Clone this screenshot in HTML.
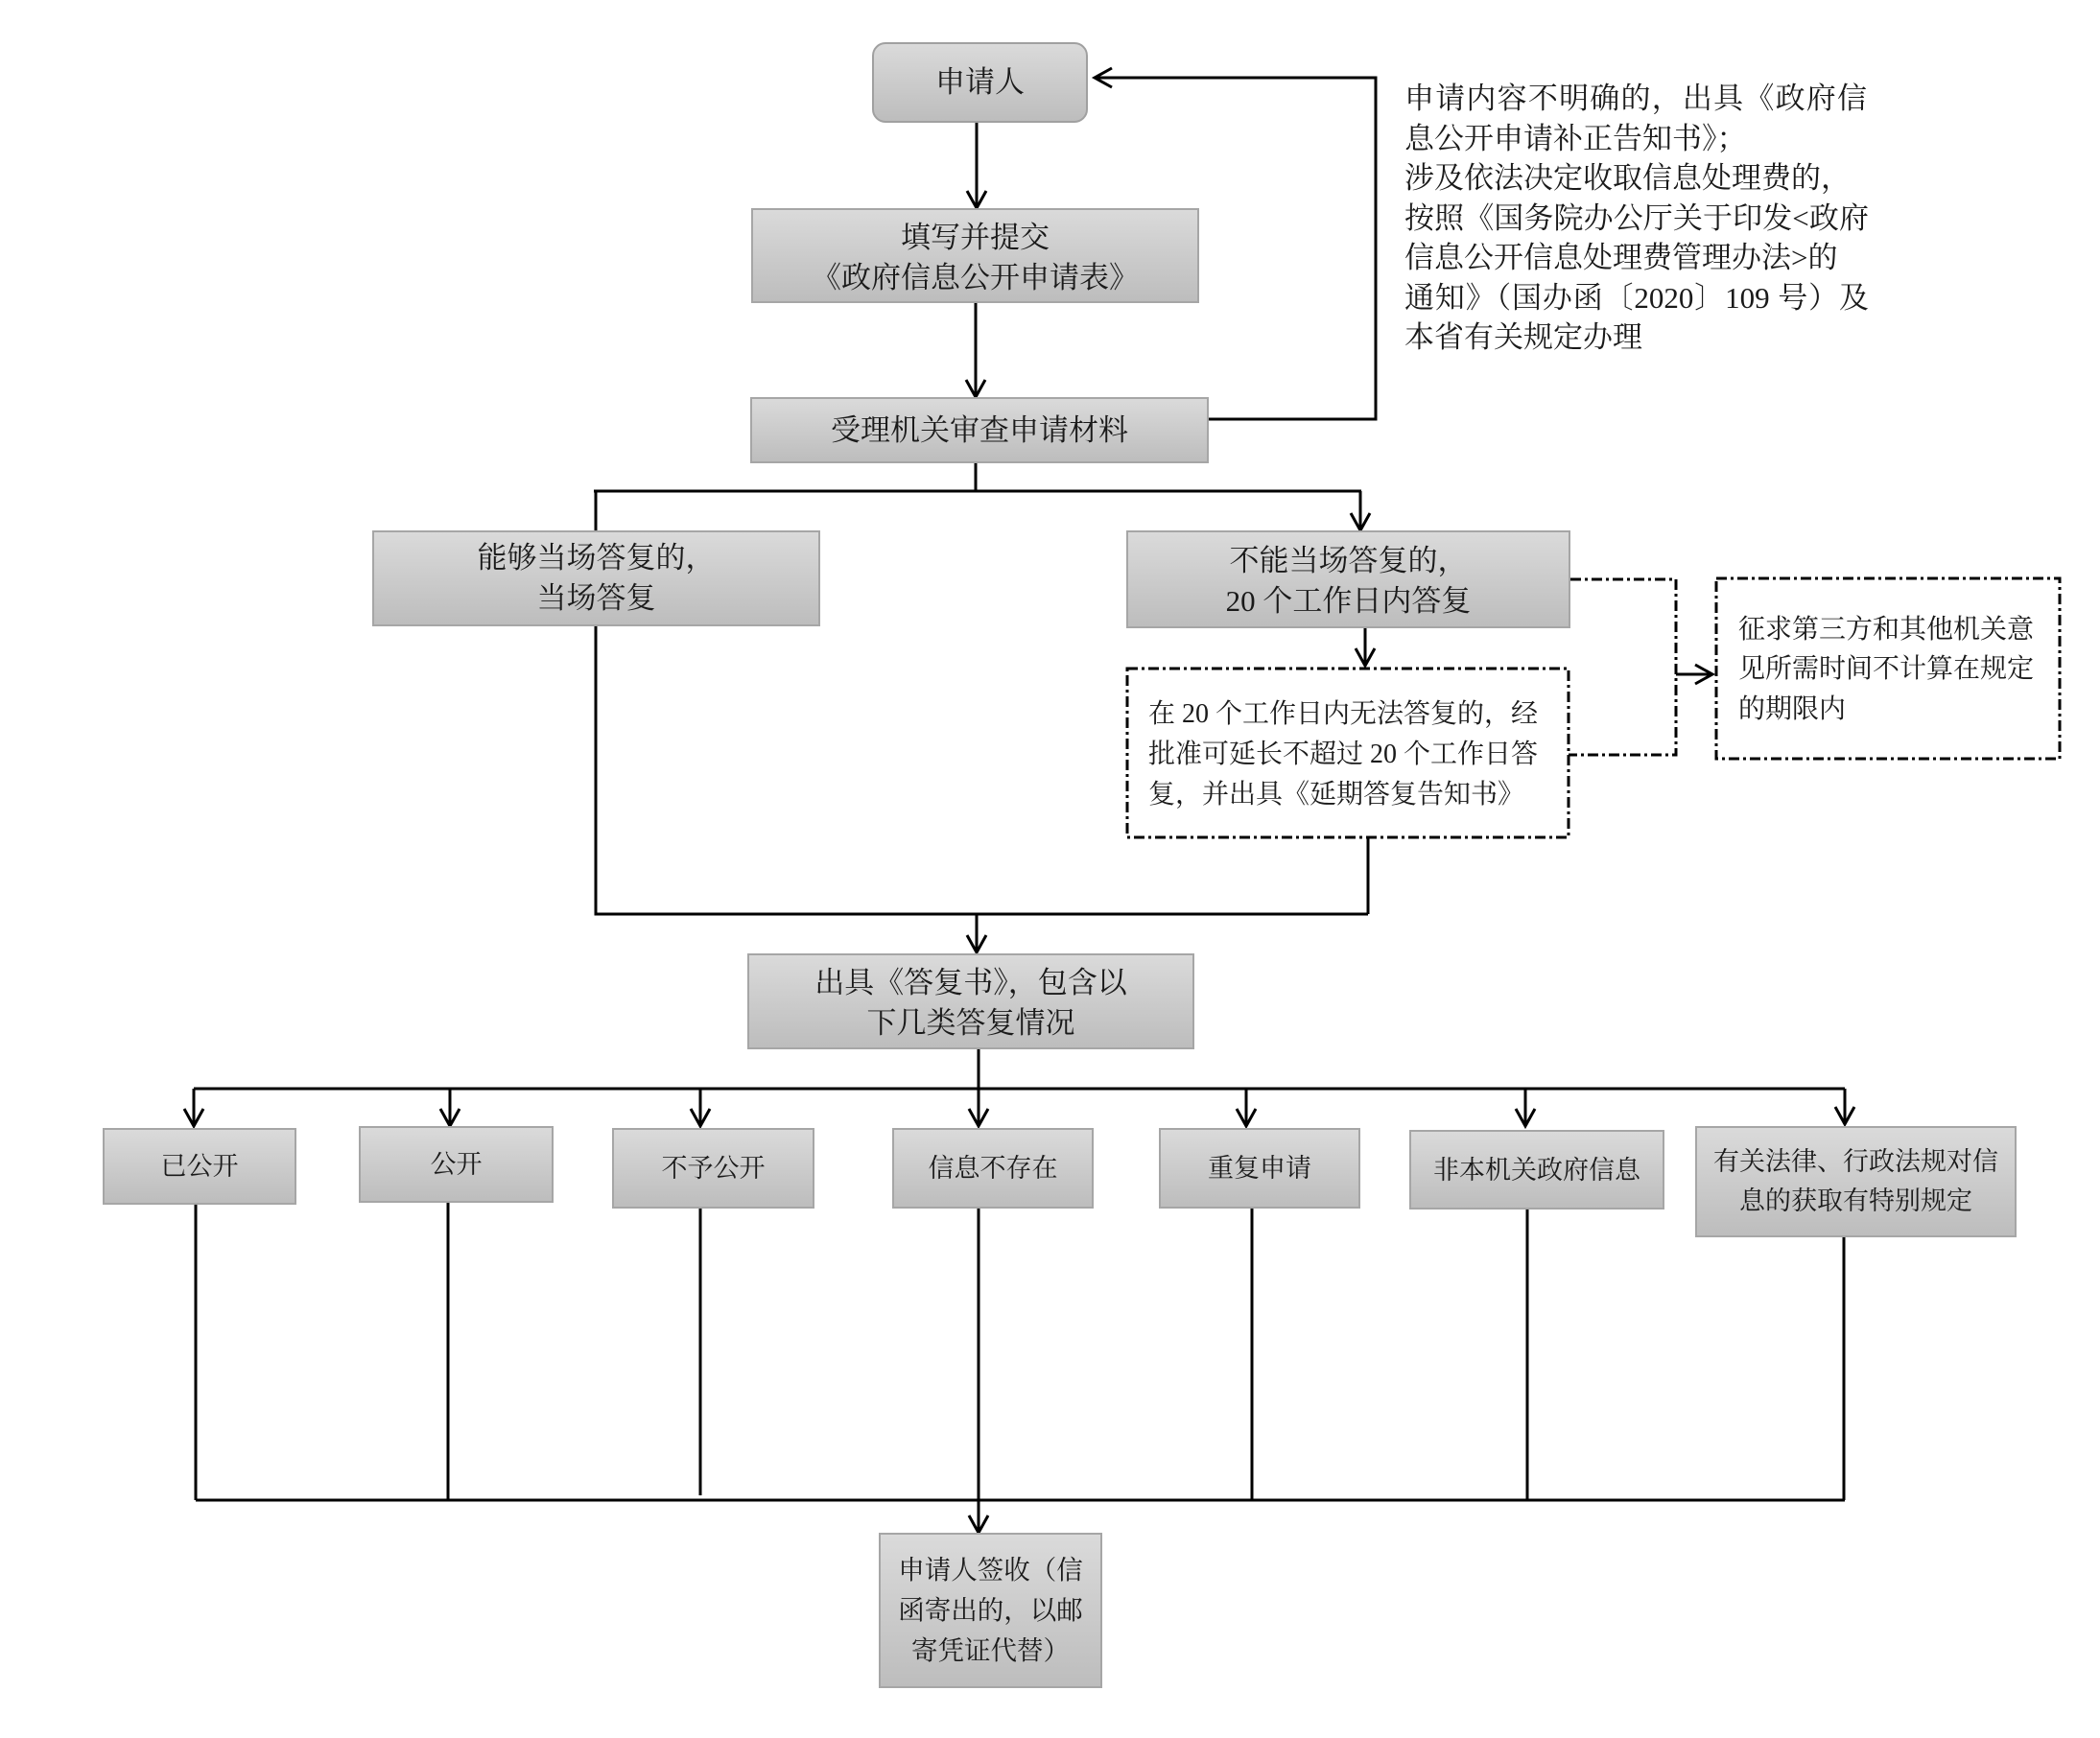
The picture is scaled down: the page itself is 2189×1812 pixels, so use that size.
<!DOCTYPE html>
<html><head><meta charset="utf-8">
<style>
html,body{margin:0;padding:0;background:#fff;}
body{width:2189px;height:1812px;position:relative;overflow:hidden;font-family:"Liberation Serif","Noto Serif CJK SC",serif;color:#1a1a1a;}
.b{position:absolute;box-sizing:border-box;border:2px solid #a6a6a6;background:linear-gradient(#dadada,#bdbdbd);display:flex;flex-direction:column;justify-content:center;align-items:center;text-align:center;font-size:31px;line-height:42px;white-space:nowrap;}
.s{font-size:27px;}
.t{position:absolute;white-space:nowrap;font-size:31px;line-height:41.5px;}
.d{position:absolute;white-space:nowrap;font-size:28px;line-height:42px;}
svg{position:absolute;left:0;top:0;}
</style></head><body>
<svg width="2189" height="1812" viewBox="0 0 2189 1812">
<g fill="none" stroke="#000" stroke-width="3">
<path d="M1018 128V215"/>
<path d="M1017 316V412"/>
<path d="M1260 437H1434V81H1143"/>
<path d="M1017 483V512"/>
<path d="M619 512H1419"/>
<path d="M621 512V553"/>
<path d="M1418 512V551"/>
<path d="M1423 655V693"/>
<path d="M1747 703H1783"/>
<path d="M621 653V953H1426"/>
<path d="M1426 873V953"/>
<path d="M1018 953V991"/>
<path d="M1020 1094V1135"/>
<path d="M202 1135H1923"/>
<path d="M202 1135V1172M469 1135V1172M730 1135V1172M1020 1135V1172M1299 1135V1172M1590 1135V1172M1923 1135V1170"/>
<path d="M204 1256V1564M467 1254V1564M730 1260V1559M1020 1260V1564M1305 1260V1564M1592 1261V1564M1922 1290V1564"/>
<path d="M204 1564H1923"/>
<path d="M1020 1564V1596"/>
</g>
<g fill="none" stroke="#000" stroke-width="3" stroke-linejoin="miter">
<polyline points="1008,199 1018,217 1028,199"/>
<polyline points="1007,396 1017,414 1027,396"/>
<polyline points="1159,71 1141,81 1159,91"/>
<polyline points="1408,535 1418,553 1428,535"/>
<polyline points="1413,676 1423,694 1433,676"/>
<polyline points="1767,693 1785,703 1767,713"/>
<polyline points="1008,975 1018,993 1028,975"/>
<polyline points="192,1156 202,1174 212,1156"/>
<polyline points="459,1156 469,1174 479,1156"/>
<polyline points="720,1156 730,1174 740,1156"/>
<polyline points="1010,1156 1020,1174 1030,1156"/>
<polyline points="1289,1156 1299,1174 1309,1156"/>
<polyline points="1580,1156 1590,1174 1600,1156"/>
<polyline points="1913,1154 1923,1172 1933,1154"/>
<polyline points="1010,1580 1020,1598 1030,1580"/>
</g>
<g fill="none" stroke="#000" stroke-width="3" stroke-dasharray="11 4 3 4">
<path d="M1637 604H1747V787H1635"/>
<rect x="1175" y="697" width="460" height="176"/>
<rect x="1789" y="603" width="358" height="188"/>
</g>
</svg>

<div class="b" style="left:909px;top:44px;width:225px;height:84px;border-radius:14px;border-color:#a0a0a0;">申请人</div>
<div class="b" style="left:783px;top:217px;width:467px;height:99px;padding-top:4px;"><div>填写并提交</div><div>《政府信息公开申请表》</div></div>
<div class="b" style="left:782px;top:414px;width:478px;height:69px;">受理机关审查申请材料</div>
<div class="b" style="left:388px;top:553px;width:467px;height:100px;"><div>能够当场答复的，</div><div>当场答复</div></div>
<div class="b" style="left:1174px;top:553px;width:463px;height:102px;padding-top:4px;"><div>不能当场答复的，</div><div>20 个工作日内答复</div></div>
<div class="b" style="left:779px;top:994px;width:466px;height:100px;padding-top:4px;"><div>出具《答复书》，包含以</div><div>下几类答复情况</div></div>

<div class="b s" style="left:107px;top:1176px;width:202px;height:80px;">已公开</div>
<div class="b s" style="left:374px;top:1174px;width:203px;height:80px;">公开</div>
<div class="b s" style="left:638px;top:1176px;width:211px;height:84px;">不予公开</div>
<div class="b s" style="left:930px;top:1176px;width:210px;height:84px;">信息不存在</div>
<div class="b s" style="left:1208px;top:1176px;width:210px;height:84px;">重复申请</div>
<div class="b s" style="left:1469px;top:1178px;width:266px;height:83px;">非本机关政府信息</div>
<div class="b s" style="left:1767px;top:1174px;width:335px;height:116px;line-height:41px;"><div>有关法律、行政法规对信</div><div>息的获取有特别规定</div></div>
<div class="b s" style="left:916px;top:1598px;width:233px;height:162px;line-height:42px;font-size:27.5px;"><div>申请人签收（信</div><div>函寄出的，以邮</div><div>寄凭证代替）</div></div>

<div class="t" style="left:1464px;top:82px;width:482px;text-align:justify;text-align-last:justify;">申请内容不明确的，出具《政府信</div>
<div class="t" style="left:1464px;top:123.5px;">息公开申请补正告知书》；</div>
<div class="t" style="left:1464px;top:165px;">涉及依法决定收取信息处理费的，</div>
<div class="t" style="left:1464px;top:206.5px;width:484px;text-align:justify;text-align-last:justify;">按照《国务院办公厅关于印发&lt;政府</div>
<div class="t" style="left:1464px;top:248px;">信息公开信息处理费管理办法&gt;的</div>
<div class="t" style="left:1464px;top:289.5px;width:484px;text-align:justify;text-align-last:justify;">通知》（国办函〔2020〕109 号）及</div>
<div class="t" style="left:1464px;top:331px;">本省有关规定办理</div>

<div class="d" style="left:1197px;top:724px;">在 20 个工作日内无法答复的，经</div>
<div class="d" style="left:1197px;top:766px;">批准可延长不超过 20 个工作日答</div>
<div class="d" style="left:1197px;top:808px;">复，并出具《延期答复告知书》</div>

<div class="d" style="left:1812px;top:636px;">征求第三方和其他机关意</div>
<div class="d" style="left:1812px;top:677px;">见所需时间不计算在规定</div>
<div class="d" style="left:1812px;top:719px;">的期限内</div>
</body></html>
